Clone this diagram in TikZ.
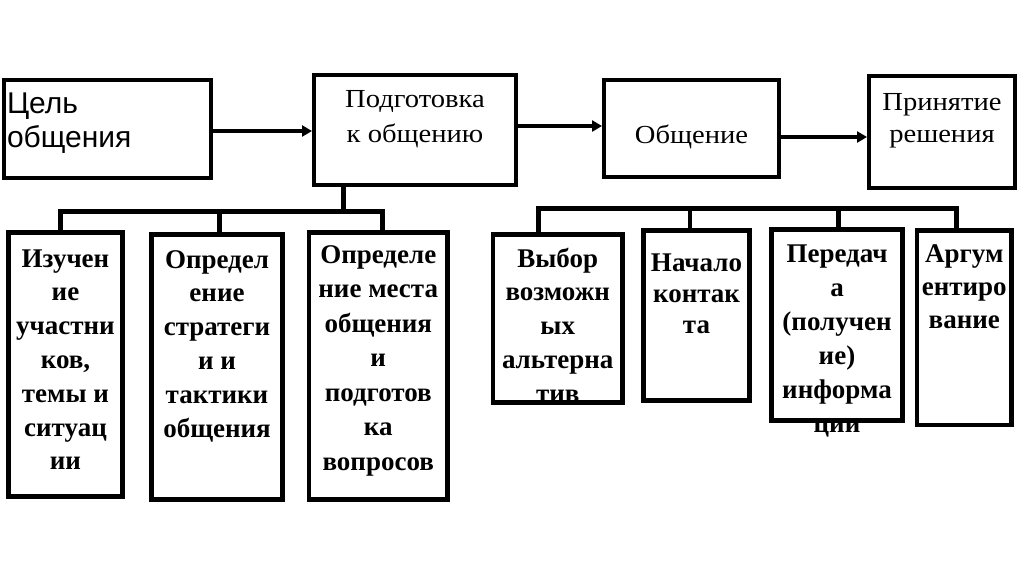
\documentclass[tikz,border=0pt]{standalone}
\usepackage{fontspec}
\setmainfont{Liberation Serif}
\newfontfamily\topserif[FakeStretch=1.1]{Liberation Serif}
\newfontfamily\sansA{Liberation Sans}
\usetikzlibrary{arrows.meta}
\newcommand\stackc[1]{\begin{tabular}[t]{@{}c@{}}#1\end{tabular}}
\newcommand\stackl[1]{\begin{tabular}[t]{@{}l@{}}#1\end{tabular}}
\begin{document}
\begin{tikzpicture}[x=1pt,y=-1pt,
  box/.style={draw, line width=4.5pt, inner sep=0pt, outer sep=0pt, anchor=north west},
  txt/.style={inner sep=0pt, outer sep=0pt, anchor=base},
  lowfont/.style={font=\fontsize{27}{33.8}\selectfont\bfseries},
  topfont/.style={font=\fontsize{26}{34}\selectfont\topserif},
  wire/.style={line width=4.5pt, line join=miter},
  arr/.style={line width=4.5pt, -{Triangle[length=10pt,width=11pt]}, shorten >=2pt}]
\fill[white] (0,0) rectangle (1024,574);
\useasboundingbox (0,0) rectangle (1024,574);

% top row
\node[box, minimum width=207pt, minimum height=98pt] (A) at (4,80) {};
\node[box, minimum width=202pt, minimum height=110pt] (B) at (314,75) {};
\node[box, minimum width=175pt, minimum height=97pt] (C) at (604,80) {};
\node[box, minimum width=146pt, minimum height=112pt] (D) at (869,76) {};

\node[txt, anchor=base west, font=\fontsize{30}{34}\selectfont\sansA] (tA) at (7,113) {\stackl{Цель\\общения}};
\node[txt, topfont] (tB) at (B.north |- 0,107) {\fontsize{26}{35}\selectfont\stackc{Подготовка\\к общению}};
\node[txt, topfont] (tC) at (C.north |- 0,143) {Общение};
\node[txt, topfont] (tD) at (942,110) {\fontsize{26}{32}\selectfont\stackc{Принятие\\решения}};

\draw[arr] (A.east |- 0,131) -- (B.west |- 0,131);
\draw[arr] (B.east |- 0,126) -- (C.west |- 0,126);
\draw[arr] (C.east |- 0,137) -- (D.west |- 0,137);

% lower left boxes
\node[box, minimum width=114pt, minimum height=264pt] (E1) at (8.5,232.5) {};
\node[box, minimum width=131pt, minimum height=265pt] (E2) at (151.5,234.5) {};
\node[box, minimum width=138.5pt, minimum height=267pt] (E3) at (309,232.5) {};

\node[txt, lowfont] (tE1) at (E1.north |- 0,267) {\stackc{Изучен\\ие\\участни\\ков,\\темы и\\ситуац\\ии}};
\node[txt, lowfont] (tE2) at (E2.north |- 0,268) {\stackc{Определ\\ение\\стратеги\\и и\\тактики\\общения}};
\node[txt, font=\fontsize{27}{34.5}\selectfont\bfseries] (tE3) at (E3.north |- 0,263) {\stackc{Определе\\ние места\\общения\\и\\подготов\\ка\\вопросов}};

\coordinate (j0) at (343.5,211.5);
\coordinate (j1) at (60.5,211.5);
\coordinate (j2) at (219.5,211.5);
\coordinate (j3) at (382.5,211.5);
\draw[wire] (B.south -| j0) -- (j0);
\draw[wire] (E1.north -| j1) -- (j1) -- (j3) -- (E3.north -| j3);
\draw[wire] (j2) -- (E2.north -| j2);

% lower right boxes
\node[box, minimum width=129.5pt, minimum height=168pt] (F1) at (493,234.5) {};
\node[box, minimum width=106pt, minimum height=170pt] (F2) at (643.5,230.5) {};
\node[box, minimum width=131pt, minimum height=191pt] (F3) at (771.5,229.5) {};
\node[box, minimum width=94.5pt, minimum height=194.5pt] (F4) at (917,230.5) {};

\node[txt, lowfont] (tF1) at (F1.north |- 0,267) {\stackc{Выбор\\возможн\\ых\\альтерна\\тив}};
\node[txt, font=\fontsize{27}{31}\selectfont\bfseries] (tF2) at (F2.north |- 0,271) {\stackc{Начало\\контак\\та}};
\node[txt, font=\fontsize{27}{34}\selectfont\bfseries] (tF3) at (F3.north |- 0,262) {\stackc{Передач\\а\\(получен\\ие)\\информа\\ции}};
\node[txt, font=\fontsize{27}{33}\selectfont\bfseries] (tF4) at (F4.north |- 0,262) {\stackc{Аргум\\ентиро\\вание}};

\coordinate (k1) at (538.5,208.5);
\coordinate (k2) at (690,208.5);
\coordinate (k3) at (838.5,208.5);
\coordinate (k4) at (956.5,208.5);
\draw[wire] (F1.north -| k1) -- (k1) -- (k4) -- (F4.north -| k4);
\draw[wire] (k2) -- (F2.north -| k2);
\draw[wire] (k3) -- (F3.north -| k3);
\end{tikzpicture}
\end{document}
